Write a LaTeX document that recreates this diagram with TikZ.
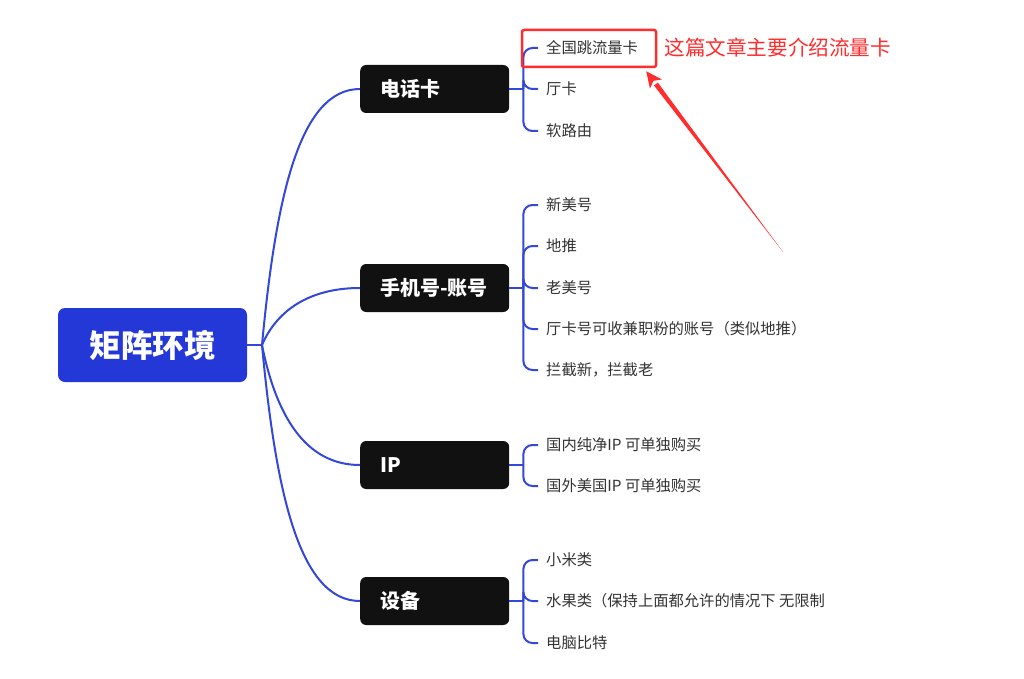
\documentclass[tikz,border=0pt]{standalone}
\usepackage{fontspec}
\setmainfont{Noto Sans CJK SC}
\usetikzlibrary{calc}

\definecolor{rootblue}{HTML}{2438D8}
\definecolor{linkblue}{HTML}{3347D9}
\definecolor{catblack}{HTML}{111111}
\definecolor{leafgray}{HTML}{333333}
\definecolor{markred}{HTML}{FF2D2D}

\begin{document}
\begin{tikzpicture}[
    x=1pt, y=-1pt,
    rootbox/.style={fill=rootblue, rounded corners=7pt, minimum width=189pt, minimum height=74pt, text=white, font=\fontsize{31.5}{33}\selectfont\bfseries},
    catbox/.style={fill=catblack, rounded corners=6pt, anchor=west, minimum width=149pt, minimum height=48pt, inner xsep=20pt, text=white, font=\fontsize{20}{22}\selectfont\bfseries},
    leaf/.style={anchor=west, inner xsep=8pt, inner ysep=2pt, text=leafgray, font=\fontsize{15.3}{17}\selectfont},
    branch/.style={draw=linkblue, line width=2pt},
    callbox/.style={draw=markred, line width=2.5pt, rounded corners=2pt, minimum width=134pt, minimum height=37pt},
    calltext/.style={anchor=west, text=markred, font=\fontsize{20.6}{22}\selectfont}
]
\useasboundingbox[fill=white] (0,0) rectangle (1024,679);

% root and hub
\node[rootbox] (root) at (152.5,345) {矩阵环境};
\coordinate (hub) at (262,345);
\draw[branch] (root.east) -- (hub);

% categories
\node[catbox] (phone) at (360,89) {\makebox[109pt][l]{电话卡}};
\node[catbox] (acct) at (360,288) {\makebox[109pt][l]{手机号-账号}};
\node[catbox] (ip) at (360,465) {\makebox[109pt][l]{IP}};
\node[catbox] (dev) at (360,601) {\makebox[109pt][l]{设备}};

\draw[branch] (hub) .. controls +(14,-150) and +(-60,0) .. (phone.west);
\draw[branch] (hub) .. controls +(15,-35) and +(-50,0) .. (acct.west);
\draw[branch] (hub) .. controls +(14,70) and +(-55,0) .. (ip.west);
\draw[branch] (hub) .. controls +(14,150) and +(-60,0) .. (dev.west);

% junctions
\foreach \c in {phone,acct,ip,dev} {
  \coordinate (j-\c) at ($(\c.east)+(14,0)$);
  \draw[branch] (\c.east) -- (j-\c);
}

% leaves
\foreach \y/\t [count=\i] in {48/{全国跳流量卡}, 89/{厅卡}, 131/{软路由}} {
  \node[leaf] (phone-\i) at (538,\y) {\t};
  \draw[branch, rounded corners=9pt] (j-phone) |- (phone-\i.west);
}
\foreach \y/\t [count=\i] in {205/{新美号}, 246/{地推}, 288/{老美号}, 329/{厅卡号可收兼职粉的账号（类似地推）}, 370/{拦截新，拦截老}} {
  \node[leaf] (acct-\i) at (538,\y) {\t};
  \draw[branch, rounded corners=9pt] (j-acct) |- (acct-\i.west);
}
\foreach \y/\t [count=\i] in {445/{国内纯净IP 可单独购买}, 486/{国外美国IP 可单独购买}} {
  \node[leaf] (ip-\i) at (538,\y) {\t};
  \draw[branch, rounded corners=9pt] (j-ip) |- (ip-\i.west);
}
\foreach \y/\t [count=\i] in {560/{小米类}, 601/{水果类（保持上面都允许的情况下 无限制}, 643/{电脑比特}} {
  \node[leaf] (dev-\i) at (538,\y) {\t};
  \draw[branch, rounded corners=9pt] (j-dev) |- (dev-\i.west);
}

% callout
\node[callbox] (callout) at (589,48.5) {};
\node[calltext] (calltxt) at (661,48) {这篇文章主要介绍流量卡};
\coordinate (arrowtip) at ($(callout.south east)+(-11,3)$);
\coordinate (arrowtail) at (783,252);
\coordinate (shaftend) at ($(arrowtip)!16pt!(arrowtail)$);
\fill[markred] (arrowtail) -- ($(shaftend)!2.4pt!90:(arrowtail)$) -- ($(shaftend)!2.4pt!-90:(arrowtail)$) -- cycle;
\fill[markred] (arrowtip) -- ($(shaftend)!7.5pt!90:(arrowtail)$) -- ($(arrowtip)!12pt!(arrowtail)$) -- ($(shaftend)!7.5pt!-90:(arrowtail)$) -- cycle;
\end{tikzpicture}
\end{document}
